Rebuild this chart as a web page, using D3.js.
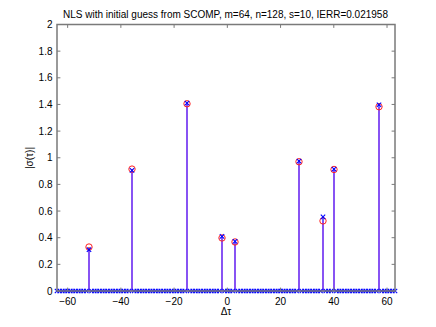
<!DOCTYPE html>
<html>
<head>
<meta charset="utf-8">
<script src="https://cdn.jsdelivr.net/npm/d3@7"></script>
<style>
html,body{margin:0;padding:0;background:#fff;}
text{font-family:"Liberation Sans",Arial,Helvetica,sans-serif;}
</style>
</head>
<body>
<svg id="chart" width="436" height="327"></svg>
<script>
// Data
const titleText = "NLS with initial guess from SCOMP, m=64, n=128, s=10, IERR=0.021958";
const xLabel = "Δτ";
const yLabel = "|σ(τ)|";
const tauMin = -64, tauMax = 63;
const supportTau = [-52, -36, -15, -2, 3, 27, 36, 40, 57];
const trueValues = [0.33, 0.915, 1.405, 0.398, 0.368, 0.970, 0.526, 0.912, 1.383];
const estValues  = [0.31, 0.905, 1.410, 0.410, 0.372, 0.975, 0.556, 0.915, 1.398];
const xTicks = [-60, -40, -20, 0, 20, 40, 60];
const yTicks = [0, 0.2, 0.4, 0.6, 0.8, 1, 1.2, 1.4, 1.6, 1.8, 2];

const svg = d3.select("#chart");
const L = 57, R = 395, T = 24.5, B = 291;
const x = d3.scaleLinear().domain([tauMin, tauMax]).range([L, R]);
const y = d3.scaleLinear().domain([0, 2]).range([B, T]);
const px = v => Math.round(v);

const allTau = d3.range(tauMin, tauMax + 1);
const estMap = new Map(supportTau.map((t, i) => [t, estValues[i]]));
const estAll = allTau.map(t => ({t, v: estMap.has(t) ? estMap.get(t) : 0}));
const trueData = supportTau.map((t, i) => ({t, v: trueValues[i]}));
const stemData = supportTau.map((t, i) => ({t, tv: trueValues[i], ev: estValues[i]}));

const g = svg.append("g");

// baseline
g.append("line").attr("x1", L).attr("x2", R).attr("y1", y(0)).attr("y2", y(0))
  .attr("stroke", "#0000ff").attr("stroke-width", 1);

// shared stem part (red + blue overlap -> purple)
g.selectAll(".stem").data(stemData).enter().append("line")
  .attr("x1", d => px(x(d.t))).attr("x2", d => px(x(d.t)))
  .attr("y1", y(0)).attr("y2", d => y(Math.min(d.tv, d.ev)))
  .attr("stroke", "#6a28f0").attr("stroke-width", 1.6);
// part where estimate exceeds true (blue)
g.selectAll(".stemB").data(stemData.filter(d => d.ev > d.tv)).enter().append("line")
  .attr("x1", d => px(x(d.t))).attr("x2", d => px(x(d.t)))
  .attr("y1", d => y(d.tv)).attr("y2", d => y(d.ev))
  .attr("stroke", "#4040ff").attr("stroke-width", 1.6);
// part where true exceeds estimate (red)
g.selectAll(".stemR").data(stemData.filter(d => d.tv > d.ev)).enter().append("line")
  .attr("x1", d => px(x(d.t))).attr("x2", d => px(x(d.t)))
  .attr("y1", d => y(d.ev)).attr("y2", d => y(d.tv))
  .attr("stroke", "#e04040").attr("stroke-width", 1.6);

// red circles
g.selectAll(".circ").data(trueData).enter().append("circle")
  .attr("cx", d => px(x(d.t))).attr("cy", d => y(d.v)).attr("r", 3.2)
  .attr("fill", "none").attr("stroke", "#ff2020").attr("stroke-width", 1);

// blue x markers
const s = 2.2;
g.selectAll(".xm").data(estAll).enter().append("path")
  .attr("d", d => {
    const cx = d.v > 0 ? px(x(d.t)) : x(d.t), cy = y(d.v);
    return `M${cx - s},${cy - s}L${cx + s},${cy + s}M${cx - s},${cy + s}L${cx + s},${cy - s}`;
  })
  .attr("fill", "none").attr("stroke", "#0000ff").attr("stroke-width", 1.1);

// axes box & ticks
const axisColor = "#7a7a7a";
const tl = 3.4;
const axes = svg.append("g");
xTicks.forEach(t => {
  axes.append("line").attr("x1", x(t)).attr("x2", x(t)).attr("y1", B).attr("y2", B - tl)
    .attr("stroke", axisColor).attr("stroke-width", 1);
  axes.append("line").attr("x1", x(t)).attr("x2", x(t)).attr("y1", T).attr("y2", T + tl)
    .attr("stroke", axisColor).attr("stroke-width", 1);
  axes.append("text").attr("x", x(t)).attr("y", 304.5).attr("text-anchor", "middle")
    .attr("font-size", "10px").attr("fill", "#000").text(t === 0 ? "0" : (t < 0 ? "\u2212" + Math.abs(t) : t));
});
yTicks.forEach(t => {
  axes.append("line").attr("x1", L).attr("x2", L + tl).attr("y1", y(t)).attr("y2", y(t))
    .attr("stroke", axisColor).attr("stroke-width", 1);
  axes.append("line").attr("x1", R).attr("x2", R - tl).attr("y1", y(t)).attr("y2", y(t))
    .attr("stroke", axisColor).attr("stroke-width", 1);
  axes.append("text").attr("x", 52.5).attr("y", y(t) + 3.6).attr("text-anchor", "end")
    .attr("font-size", "10px").attr("fill", "#000").text(d3.format("~g")(t));
});
axes.append("rect").attr("x", L).attr("y", T).attr("width", R - L).attr("height", B - T)
  .attr("fill", "none").attr("stroke", axisColor).attr("stroke-width", 1.5);

// labels
svg.append("text").attr("x", 225.5).attr("y", 18).attr("text-anchor", "middle")
  .attr("font-size", "10px").attr("fill", "#000").text(titleText);
svg.append("text").attr("x", 226).attr("y", 315).attr("text-anchor", "middle")
  .attr("font-size", "10px").attr("fill", "#000").text(xLabel);
svg.append("text").attr("transform", "translate(33,158) rotate(-90)").attr("text-anchor", "middle")
  .attr("font-size", "10px").attr("fill", "#000").text(yLabel);
</script>
</body>
</html>
